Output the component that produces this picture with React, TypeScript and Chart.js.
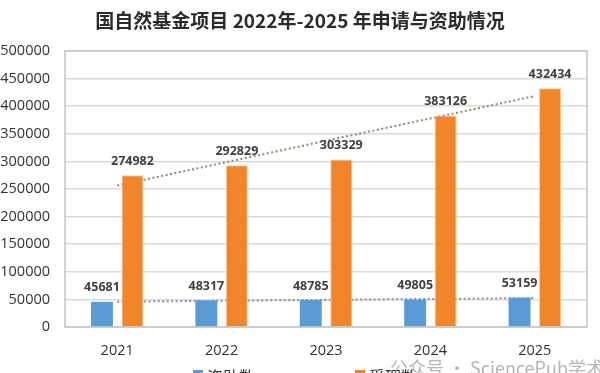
import React, { useEffect, useRef } from "react";
import { Chart, registerables } from "chart.js";

Chart.register(...registerables);

const years = ["2021", "2022", "2023", "2024", "2025"];
const funded = [45681, 48317, 48785, 49805, 53159];
const applied = [274982, 292829, 303329, 383126, 432434];
const yMin = 0;
const yMax = 500000;
const yStep = 50000;
const titleText = "国自然基金项目 2022年-2025 年申请与资助情况";
const legendLabels = ["资助数", "受理数"];
const watermark = "公众号 · SciencePub学术";

const BLUE = "#5b9bd5";
const ORANGE = "#f0852a";

// Linear (least-squares) trendline of a series, as the source chart's trendlines are
function linearTrend(values: number[]): number[] {
  const n = values.length;
  const mx = (n - 1) / 2;
  const my = values.reduce((a, b) => a + b, 0) / n;
  let num = 0;
  let den = 0;
  values.forEach((v, i) => {
    num += (i - mx) * (v - my);
    den += (i - mx) * (i - mx);
  });
  const slope = num / den;
  return values.map((_, i) => my + slope * (i - mx));
}

const titlePlugin = {
  id: "customTitle",
  afterDraw(chart: any) {
    const ctx = chart.ctx;
    ctx.save();
    ctx.font = "bold 19px 'Noto Sans CJK SC', 'Noto Sans', sans-serif";
    ctx.fillStyle = "#2b2b2b";
    ctx.textAlign = "center";
    ctx.textBaseline = "middle";
    ctx.fillText(titleText, 300, 21);
    ctx.restore();
  },
};

const borderPlugin = {
  id: "areaBorder",
  beforeDatasetsDraw(chart: any) {
    const { ctx, chartArea } = chart;
    ctx.save();
    ctx.strokeStyle = "#c4c4c4";
    ctx.lineWidth = 1.5;
    ctx.strokeRect(chartArea.left, chartArea.top, chartArea.right - chartArea.left, chartArea.bottom - chartArea.top);
    ctx.restore();
  },
};

const valueLabelPlugin = {
  id: "valueLabels",
  afterDatasetsDraw(chart: any) {
    const ctx = chart.ctx;
    ctx.save();
    ctx.font = "bold 12.5px 'Open Sans', 'DejaVu Sans', sans-serif";
    ctx.fillStyle = "#404040";
    ctx.textAlign = "center";
    ctx.textBaseline = "middle";
    chart.data.datasets.forEach((ds: any, i: number) => {
      if (ds.type !== "bar") return;
      const meta = chart.getDatasetMeta(i);
      meta.data.forEach((el: any, j: number) => {
        ctx.fillText(String(ds.data[j]), el.x, el.y - 14);
      });
    });
    ctx.restore();
  },
};

const legendPlugin = {
  id: "bottomLegend",
  afterDraw(chart: any) {
    const ctx = chart.ctx;
    ctx.save();
    ctx.font = "16px 'Noto Sans CJK SC', sans-serif";
    ctx.textBaseline = "middle";
    ctx.textAlign = "left";
    const items = [
      { x: 193, color: BLUE, label: legendLabels[0] },
      { x: 355, color: ORANGE, label: legendLabels[1] },
    ];
    items.forEach((it) => {
      ctx.fillStyle = it.color;
      ctx.fillRect(it.x, 370, 10, 10);
      ctx.fillStyle = "#333333";
      ctx.fillText(it.label, it.x + 14, 377);
    });
    ctx.font = "18px 'Noto Sans CJK SC', sans-serif";
    ctx.fillStyle = "rgba(150,150,150,0.7)";
    ctx.fillText(watermark, 390, 368);
    ctx.restore();
  },
};

export default function App() {
  const ref = useRef<HTMLCanvasElement | null>(null);

  useEffect(() => {
    document.body.style.margin = "0";
    if (!ref.current) return;
    const chart = new Chart(ref.current, {
      type: "bar",
      data: {
        labels: years,
        datasets: [
          {
            type: "bar",
            label: legendLabels[0],
            data: funded,
            backgroundColor: BLUE,
            categoryPercentage: 0.584,
            barPercentage: 0.72,
            order: 1,
          } as any,
          {
            type: "bar",
            label: legendLabels[1],
            data: applied,
            backgroundColor: ORANGE,
            borderColor: "#f8c48c",
            borderWidth: 1,
            categoryPercentage: 0.584,
            barPercentage: 0.72,
            order: 1,
          } as any,
          {
            type: "line",
            label: "资助数趋势",
            data: linearTrend(funded),
            borderColor: "#7d93ad",
            borderWidth: 2,
            borderDash: [2, 2.5],
            pointRadius: 0,
            fill: false,
            order: 5,
          } as any,
          {
            type: "line",
            label: "受理数趋势",
            data: linearTrend(applied),
            borderColor: "#8d8b68",
            borderWidth: 2,
            borderDash: [2, 2.5],
            pointRadius: 0,
            fill: false,
            order: 5,
          } as any,
        ],
      },
      options: {
        responsive: false,
        animation: false,
        devicePixelRatio: 1,
        layout: { padding: { top: 51, right: 13, left: 0, bottom: 0 } },
        plugins: {
          legend: { display: false },
          title: { display: false },
          tooltip: { enabled: false },
        },
        scales: {
          x: {
            type: "category",
            grid: { display: false, drawTicks: false },
            border: { display: false },
            ticks: {
              padding: 15,
              color: "#333333",
              font: { size: 14.5, family: "'Open Sans', 'DejaVu Sans', sans-serif" },
            },
            afterFit: (s: any) => {
              s.height = 46;
            },
          },
          y: {
            min: yMin,
            max: yMax,
            grid: { color: "#dadada", lineWidth: 1.5, drawTicks: false },
            border: { display: false },
            ticks: {
              stepSize: yStep,
              padding: 15,
              color: "#333333",
              font: { size: 14.5, family: "'Open Sans', 'DejaVu Sans', sans-serif" },
              callback: (v: any) => String(v),
            },
            afterFit: (s: any) => {
              s.width = 65;
            },
          },
        },
      },
      plugins: [borderPlugin, valueLabelPlugin, titlePlugin, legendPlugin],
    });
    return () => chart.destroy();
  }, []);

  return (
    <div style={{ width: 600, height: 373, background: "#ffffff" }}>
      <canvas ref={ref} width={600} height={373} style={{ width: 600, height: 373, display: "block" }} />
    </div>
  );
}
